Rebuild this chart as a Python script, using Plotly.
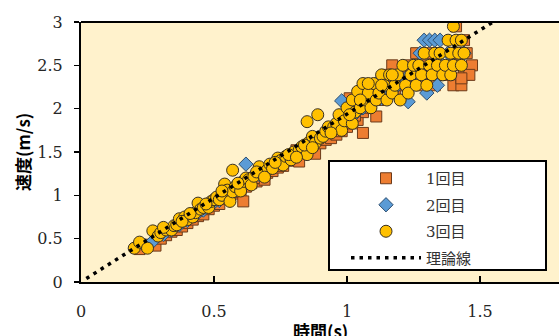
import plotly.graph_objects as go

# ---- data ----
t1 = [0.22,0.25,0.28,0.30,0.32,0.34,0.36,0.38,0.40,0.42,0.44,0.46,0.48,0.50,0.52,0.54,0.56,0.58,0.60,0.61,
      0.62,0.64,0.66,0.68,0.69,0.70,0.72,0.74,0.76,0.78,0.80,0.82,0.84,0.86,0.88,0.90,0.92,0.94,0.96,0.98,
      1.00,1.01,1.02,1.04,1.06,1.06,1.08,1.10,1.11,1.12,1.14,1.15,1.16,1.17,1.18,1.20,1.22,1.24,1.25,1.26,
      1.28,1.30,1.32,1.33,1.34,1.36,1.38,1.40,1.40,1.41,1.42,1.43,1.44,1.44,1.45,1.47,1.46,1.43,
      0.57,0.65,0.73,0.81,0.89,0.97,1.03,1.09,1.19,1.27,1.31,1.35,1.39]
v1 = [0.38,0.43,0.42,0.50,0.54,0.58,0.60,0.64,0.68,0.72,0.76,0.78,0.84,0.88,0.90,0.96,0.98,1.02,1.05,0.93,
      1.10,1.14,1.16,1.20,1.18,1.26,1.28,1.32,1.34,1.40,1.43,1.39,1.50,1.52,1.48,1.60,1.64,1.66,1.70,1.74,
      1.79,2.12,1.83,1.87,1.72,1.96,2.01,2.27,1.91,2.10,2.18,2.39,2.27,2.50,2.18,2.39,2.27,2.50,2.39,2.64,
      2.27,2.50,2.39,2.27,2.64,2.50,2.39,2.27,2.64,2.95,2.50,2.27,2.39,2.79,2.64,2.50,2.39,2.35,
      1.04,1.20,1.36,1.52,1.66,1.80,1.92,2.06,2.27,2.39,2.64,2.39,2.50]

t2 = [0.24,0.27,0.31,0.34,0.37,0.40,0.43,0.46,0.49,0.52,0.55,0.58,0.60,0.62,0.64,0.67,0.70,0.73,0.76,0.79,
      0.82,0.85,0.88,0.91,0.94,0.97,0.98,1.00,1.03,1.06,1.09,1.11,1.13,1.16,1.19,1.22,1.23,1.26,1.275,1.29,
      1.30,1.31,1.33,1.34,1.35,1.36,1.38,1.40,1.44]
v2 = [0.42,0.47,0.55,0.60,0.66,0.71,0.77,0.83,0.89,0.94,1.00,1.06,1.12,1.36,1.18,1.24,1.30,1.36,1.42,1.47,
      1.53,1.58,1.64,1.70,1.76,1.82,2.09,1.88,1.94,2.01,2.06,2.29,2.12,2.20,2.27,2.35,2.08,2.39,2.64,2.79,
      2.18,2.79,2.79,2.27,2.79,2.50,2.64,2.50,2.64]

t3 = [0.20,0.22,0.25,0.27,0.29,0.30,0.32,0.34,0.35,0.36,0.37,0.39,0.40,0.42,0.43,0.44,0.45,0.46,0.48,0.49,
      0.50,0.51,0.52,0.53,0.54,0.55,0.56,0.57,0.57,0.58,0.60,0.61,0.62,0.63,0.64,0.65,0.67,0.68,0.70,0.71,
      0.72,0.74,0.75,0.76,0.77,0.79,0.80,0.82,0.83,0.85,0.85,0.86,0.87,0.88,0.89,0.90,0.91,0.92,0.93,0.95,
      0.96,0.97,0.98,0.99,1.00,1.02,1.02,1.03,1.04,1.05,1.06,1.07,1.08,1.09,1.10,1.11,1.12,1.13,1.14,1.15,
      1.16,1.17,1.18,1.19,1.20,1.21,1.22,1.23,1.24,1.25,1.26,1.27,1.28,1.29,1.30,1.31,1.32,1.33,1.34,1.35,
      1.36,1.37,1.38,1.39,1.39,1.40,1.40,1.41,1.42,1.43,1.43,1.44,
      0.31,0.38,0.41,0.47,0.53,0.59,0.66,0.69,0.73,0.78,0.81,0.84,0.87,0.94,1.01,1.05,1.08,1.13,1.17]
v3 = [0.39,0.46,0.39,0.59,0.53,0.57,0.60,0.60,0.65,0.66,0.73,0.75,0.72,0.75,0.80,0.91,0.84,0.86,0.86,0.93,
      0.95,0.98,0.95,1.00,1.13,1.06,0.93,1.04,1.29,1.10,1.05,1.16,1.20,1.18,1.12,1.22,1.33,1.25,1.29,1.36,
      1.31,1.43,1.40,1.35,1.45,1.41,1.50,1.52,1.56,1.47,1.85,1.62,1.68,1.60,1.93,1.66,1.68,1.74,1.79,1.79,
      1.83,1.93,1.75,1.86,2.01,1.83,2.10,1.96,2.20,2.01,2.29,2.10,2.18,2.01,2.29,2.10,2.18,2.39,2.27,2.10,
      2.39,2.18,2.27,2.39,2.10,2.50,2.27,2.18,2.39,2.50,2.27,2.50,2.39,2.64,2.27,2.50,2.39,2.64,2.50,2.64,
      2.39,2.50,2.79,2.64,2.39,2.95,2.50,2.79,2.64,2.50,2.79,2.64,
      0.63,0.70,0.79,0.90,1.05,1.14,1.27,1.21,1.38,1.47,1.44,1.58,1.55,1.72,1.93,2.10,2.29,2.27,2.39]

theory_t = [0.02, 1.60]
theory_v = [0.04, 3.10]

series_names = ["1回目", "2回目", "3回目", "理論線"]
x_ticks = [0, 0.5, 1, 1.5]
y_ticks = [0, 0.5, 1, 1.5, 2, 2.5, 3]

SERIF = "DejaVu Serif"
JP = "Noto Sans CJK JP"

# the page margin is removed below, so figure pixels equal window pixels
L, T = 81, 22
PLOT_BOTTOM = 282
W, H = 559, 336
plot_w = W - L
plot_h = PLOT_BOTTOM - T
px_per_s = 266.0

fig = go.Figure()
fig.add_trace(go.Scatter(x=t1, y=v1, mode="markers", name=series_names[0], legendgroup="a",
                         marker=dict(symbol="square", size=11, color="#ED7D31",
                                     line=dict(color="#6b3a1a", width=1))))
fig.add_trace(go.Scatter(x=t2, y=v2, mode="markers", name=series_names[1], legendgroup="b",
                         marker=dict(symbol="diamond", size=11, color="#5B9BD5",
                                     line=dict(color="#2f4f6f", width=1))))
fig.add_trace(go.Scatter(x=t3, y=v3, mode="markers", name=series_names[2], legendgroup="c",
                         marker=dict(symbol="circle", size=12, color="#FFC000",
                                     line=dict(color="#3a3020", width=1))))
fig.add_trace(go.Scatter(x=theory_t, y=theory_v, mode="lines", name=series_names[3], legendgroup="d",
                         line=dict(color="black", width=3.5, dash="3.5px,5px")))

# legend box (window coords 329..546 x 161..270)
bx0 = (329 - L) / plot_w
bx1 = (546 - L) / plot_w
by1 = (PLOT_BOTTOM - 161) / plot_h
by0 = (PLOT_BOTTOM - 270) / plot_h

fig.update_layout(
    width=W, height=H,
    margin=dict(l=L, r=0, t=T, b=H - PLOT_BOTTOM),
    paper_bgcolor="white",
    plot_bgcolor="#FFF2CC",
    showlegend=True,
    hovermode=False,
    legend=dict(
        x=(346 - L) / plot_w, y=(PLOT_BOTTOM - 162) / plot_h,
        xanchor="left", yanchor="top",
        bgcolor="rgba(0,0,0,0)", borderwidth=0,
        font=dict(family=SERIF + ", " + JP, size=15, color="#333333"),
        itemwidth=70, tracegroupgap=4,
    ),
    xaxis=dict(
        range=[0, plot_w / px_per_s], tickvals=x_ticks, ticktext=[str(v) for v in x_ticks],
        showgrid=False, zeroline=False, showline=True, linecolor="black", linewidth=2,
        ticks="inside", ticklen=6, tickwidth=1.5, tickcolor="black",
        tickfont=dict(family=SERIF, size=16, color="#262626"),
        ticklabelstandoff=14,
    ),
    yaxis=dict(
        range=[0, 3], tickvals=y_ticks, ticktext=[str(v) for v in y_ticks],
        showgrid=False, zeroline=False, showline=True, linecolor="black", linewidth=2,
        ticks="outside", ticklen=5, tickwidth=1.5, tickcolor="black",
        tickfont=dict(family=SERIF, size=16, color="#262626"),
        ticklabelstandoff=8,
    ),
    shapes=[
        dict(type="line", xref="paper", yref="paper", x0=0, x1=1, y0=1, y1=1,
             line=dict(color="black", width=2)),
        dict(type="rect", xref="paper", yref="paper", x0=bx0, x1=bx1, y0=by0, y1=by1,
             fillcolor="white", line=dict(color="black", width=2), layer="above"),
    ],
    annotations=[
        dict(text="<b>速度(m/s)</b>", xref="paper", yref="paper", x=0, y=0.5,
             xshift=22 - L, textangle=-90, showarrow=False, xanchor="center", yanchor="middle",
             font=dict(family=JP, size=17, color="black")),
        dict(text="<b>時間(s)</b>", xref="paper", yref="paper", x=(320 - L) / plot_w, y=0,
             yshift=-(330 - PLOT_BOTTOM), showarrow=False, xanchor="center", yanchor="middle",
             font=dict(family=JP, size=17, color="black")),
    ],
)

fig.write_html(
    "out.html",
    config={"displayModeBar": False, "staticPlot": True},
    post_script="document.body.style.margin='0';document.documentElement.style.overflow='hidden';",
)
